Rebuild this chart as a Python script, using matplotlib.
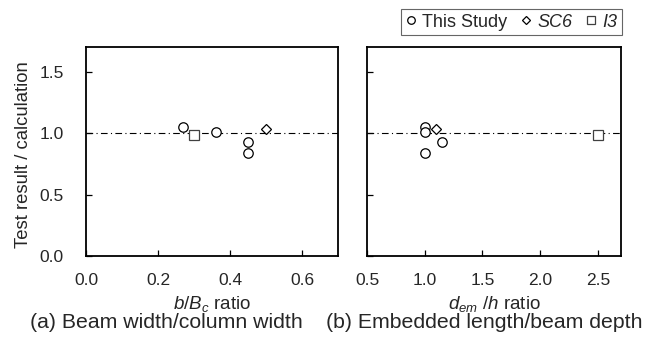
import matplotlib.pyplot as plt

plt.rcParams['font.family'] = ['Liberation Sans', 'DejaVu Sans']
plt.rcParams['mathtext.fontset'] = 'custom'
plt.rcParams['mathtext.rm'] = 'Liberation Sans'
plt.rcParams['mathtext.it'] = 'Liberation Sans:italic'

# (a) b/Bc ratio
study_bBc = [0.27, 0.36, 0.45, 0.45]
study_ratio_a = [1.05, 1.005, 0.93, 0.835]
sc6_bBc = [0.50]
sc6_ratio_a = [1.035]
i3_bBc = [0.30]
i3_ratio_a = [0.985]

# (b) dem/h ratio
study_demh = [1.0, 1.0, 1.0, 1.15]
study_ratio_b = [1.05, 1.005, 0.835, 0.93]
sc6_demh = [1.1]
sc6_ratio_b = [1.035]
i3_demh = [2.5]
i3_ratio_b = [0.985]

txt = '#262626'

fig = plt.figure(figsize=(6.67, 3.43), dpi=100)
ax1 = fig.add_axes([86/667, 87/343, 252/667, 209/343])
ax2 = fig.add_axes([367/667, 87/343, 254/667, 209/343])

def style(ax, xlim, xticks):
    ax.set_xlim(*xlim)
    ax.set_ylim(0, 1.7)
    ax.set_xticks(xticks)
    ax.set_yticks([0.0, 0.5, 1.0, 1.5])
    ax.axhline(1.0, color='black', lw=0.8, ls=(0, (6, 3, 1, 3)), zorder=1)
    for s in ax.spines.values():
        s.set_linewidth(1.3)
        s.set_color('black')
    ax.tick_params(direction='in', length=4.5, width=0.9, labelsize=12.5,
                   labelcolor=txt)
    ax.tick_params(axis='x', pad=12)
    ax.tick_params(axis='y', pad=16)

mk = dict(linestyle='none', mfc='white', mec='black', mew=0.9, zorder=3)

ax1.plot(study_bBc, study_ratio_a, marker='o', ms=6.8, label='This Study', **mk)
ax1.plot(sc6_bBc, sc6_ratio_a, marker='D', ms=5.2, label='SC6', **mk)
ax1.plot(i3_bBc, i3_ratio_a, marker='s', ms=6.8, label='I3',
         **{**mk, 'mec': '#404040'})
style(ax1, (0, 0.7), [0.0, 0.2, 0.4, 0.6])
ax1.set_xticklabels(['0.0', '0.2', '0.4', '0.6'])
ax1.set_yticklabels(['0.0', '0.5', '1.0', '1.5'])
ax1.set_ylabel('Test result / calculation', fontsize=13.3, color=txt, va='center')
ax1.yaxis.set_label_coords(-0.25, 0.485)
ax1.set_xlabel('$b/B_c$ ratio', fontsize=13.5, color=txt, va='center')
ax1.xaxis.set_label_coords(0.5, -0.23)

ax2.plot(study_demh, study_ratio_b, marker='o', ms=6.8, **mk)
ax2.plot(sc6_demh, sc6_ratio_b, marker='D', ms=5.2, **mk)
ax2.plot(i3_demh, i3_ratio_b, marker='s', ms=6.8, **{**mk, 'mec': '#404040'})
style(ax2, (0.5, 2.7), [0.5, 1.0, 1.5, 2.0, 2.5])
ax2.set_xticklabels(['0.5', '1.0', '1.5', '2.0', '2.5'])
ax2.set_yticklabels([])
ax2.set_xlabel('$d_{em}$ /$h$ ratio', fontsize=13.5, color=txt, va='center')
ax2.xaxis.set_label_coords(0.5, -0.23)

fig.text(166/667, 1 - 322/343, '(a) Beam width/column width', fontsize=15.3,
         color=txt, ha='center', va='center')
fig.text(484/667, 1 - 322/343, '(b) Embedded length/beam depth', fontsize=15.3,
         color=txt, ha='center', va='center')

h, l = ax1.get_legend_handles_labels()
leg = fig.legend(h, l, loc='upper right', bbox_to_anchor=(622/667, 1 - 9/343),
                 ncol=3, fontsize=13, frameon=True, fancybox=False,
                 handlelength=0.6, handletextpad=0.32, columnspacing=0.75,
                 borderpad=0.25, borderaxespad=0, markerscale=0.8)
leg.get_frame().set_edgecolor('#404040')
leg.get_frame().set_linewidth(0.8)
for i, t in enumerate(leg.get_texts()):
    t.set_color(txt)
    if i > 0:
        t.set_fontstyle('italic')

fig.savefig('out.png', dpi=100)
